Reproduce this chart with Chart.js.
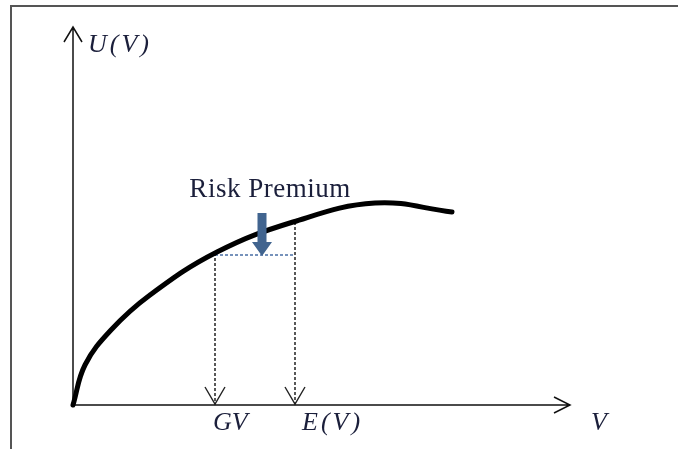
<!DOCTYPE html>
<html>
<head>
<meta charset="utf-8">
<script src="https://cdn.jsdelivr.net/npm/chart.js@4/dist/chart.umd.min.js"></script>
<style>
  body { margin: 0; background: #fff; }
  #wrap { position: relative; width: 678px; height: 449px; }
</style>
</head>
<body>
<div id="wrap"><canvas id="chart" width="678" height="449"></canvas></div>
<script>
"use strict"

// Curva de utilidade U(V) (unidades do diagrama, origem no cruzamento dos eixos)
const vVals = [0, 12, 38, 77, 144, 220, 302, 379];
const uVals = [0, 40, 75, 110, 153, 183, 202, 193];

// Pontos marcados no eixo V
const gv = 142;          // equivalente certo
const ev = 222;          // valor esperado
const uAtGv = 152;
const uAtEv = 183;
const premiumLevel = 150; // linha tracejada azul
const arrowTop = 192;     // seta azul
const arrowX = 189;

// Limites dos eixos
const xMax = 500;
const yMax = 378;

const serif = "'Liberation Serif', 'DejaVu Serif', serif";
const ink = "#1b1f3b";

// Desenha moldura, eixos com setas, pontas das setas e textos
const diagramPlugin = {
  id: "diagram",
  beforeDatasetsDraw(chart) {
    const ctx = chart.ctx;
    const x = chart.scales.x;
    const y = chart.scales.y;
    const x0 = x.getPixelForValue(0);
    const y0 = y.getPixelForValue(0);

    ctx.save();
    // moldura
    ctx.strokeStyle = "#555";
    ctx.lineWidth = 2;
    ctx.beginPath();
    ctx.moveTo(11, 449);
    ctx.lineTo(11, 6);
    ctx.lineTo(678, 6);
    ctx.stroke();

    // eixos
    ctx.strokeStyle = "#111";
    ctx.lineWidth = 1.5;
    const yTop = y.getPixelForValue(yMax);
    const xEnd = x.getPixelForValue(xMax) - 3;
    ctx.beginPath();
    ctx.moveTo(x0, y0);
    ctx.lineTo(x0, yTop);
    ctx.moveTo(x0 - 9, yTop + 15);
    ctx.lineTo(x0, yTop);
    ctx.lineTo(x0 + 9, yTop + 15);
    ctx.moveTo(x0, y0);
    ctx.lineTo(xEnd, y0);
    ctx.moveTo(xEnd - 16, y0 - 8);
    ctx.lineTo(xEnd, y0);
    ctx.lineTo(xEnd - 16, y0 + 8);
    ctx.stroke();
    ctx.restore();
  },
  afterDatasetsDraw(chart) {
    const ctx = chart.ctx;
    const x = chart.scales.x;
    const y = chart.scales.y;
    const y0 = y.getPixelForValue(0);

    ctx.save();
    // pontas abertas das setas tracejadas
    ctx.strokeStyle = "#222";
    ctx.lineWidth = 1.4;
    [gv, ev].forEach(v => {
      const px = x.getPixelForValue(v);
      ctx.beginPath();
      ctx.moveTo(px - 10, y0 - 18);
      ctx.lineTo(px, y0 - 1);
      ctx.lineTo(px + 10, y0 - 18);
      ctx.stroke();
    });

    // seta azul do prêmio de risco
    const ax = x.getPixelForValue(arrowX);
    const aTop = y.getPixelForValue(arrowTop);
    const aBot = y.getPixelForValue(premiumLevel) + 1;
    ctx.fillStyle = "#41648f";
    ctx.beginPath();
    ctx.moveTo(ax - 4.5, aTop);
    ctx.lineTo(ax + 4.5, aTop);
    ctx.lineTo(ax + 4.5, aBot - 14);
    ctx.lineTo(ax + 10, aBot - 14);
    ctx.lineTo(ax, aBot);
    ctx.lineTo(ax - 10, aBot - 14);
    ctx.lineTo(ax - 4.5, aBot - 14);
    ctx.closePath();
    ctx.fill();

    // textos
    ctx.fillStyle = ink;
    ctx.textBaseline = "middle";
    ctx.font = "italic 26px " + serif;
    ctx.textAlign = "left";
    ctx.letterSpacing = "3px";
    ctx.fillText("U(V)", 88, 45);
    ctx.fillText("E(V)", 302, 423);
    ctx.letterSpacing = "0px";
    ctx.fillText("GV", 213, 423);
    ctx.fillText("V", 591, 423);
    ctx.textAlign = "center";
    ctx.font = "27px " + serif;
    ctx.letterSpacing = "0.5px";
    ctx.fillText("Risk Premium", 270, 190);
    ctx.restore();
  }
};

const curve = vVals.map((v, i) => ({x: v, y: uVals[i]}));

new Chart(document.getElementById("chart"), {
  type: "scatter",
  data: {
    datasets: [
      {
        data: curve,
        showLine: true,
        borderColor: "#000",
        borderWidth: 5,
        pointRadius: 0,
        tension: 0.4,
        borderCapStyle: "round",
        clip: false
      },
      {
        data: [{x: gv, y: uAtGv}, {x: gv, y: 0}],
        showLine: true,
        borderColor: "#222",
        borderWidth: 1.5,
        borderDash: [3, 2],
        pointRadius: 0,
        clip: false
      },
      {
        data: [{x: ev, y: uAtEv}, {x: ev, y: 0}],
        showLine: true,
        borderColor: "#222",
        borderWidth: 1.5,
        borderDash: [3, 2],
        pointRadius: 0,
        clip: false
      },
      {
        data: [{x: gv, y: premiumLevel}, {x: ev, y: premiumLevel}],
        showLine: true,
        borderColor: "#4a6fa5",
        borderWidth: 1.4,
        borderDash: [3, 2],
        pointRadius: 0,
        clip: false
      }
    ]
  },
  options: {
    responsive: false,
    animation: false,
    layout: {padding: {left: 73, right: 105, top: 27, bottom: 44}},
    scales: {
      x: {type: "linear", min: 0, max: xMax, display: false},
      y: {type: "linear", min: 0, max: yMax, display: false}
    },
    plugins: {
      legend: {display: false},
      tooltip: {enabled: false}
    }
  },
  plugins: [diagramPlugin]
});
</script>
</body>
</html>
